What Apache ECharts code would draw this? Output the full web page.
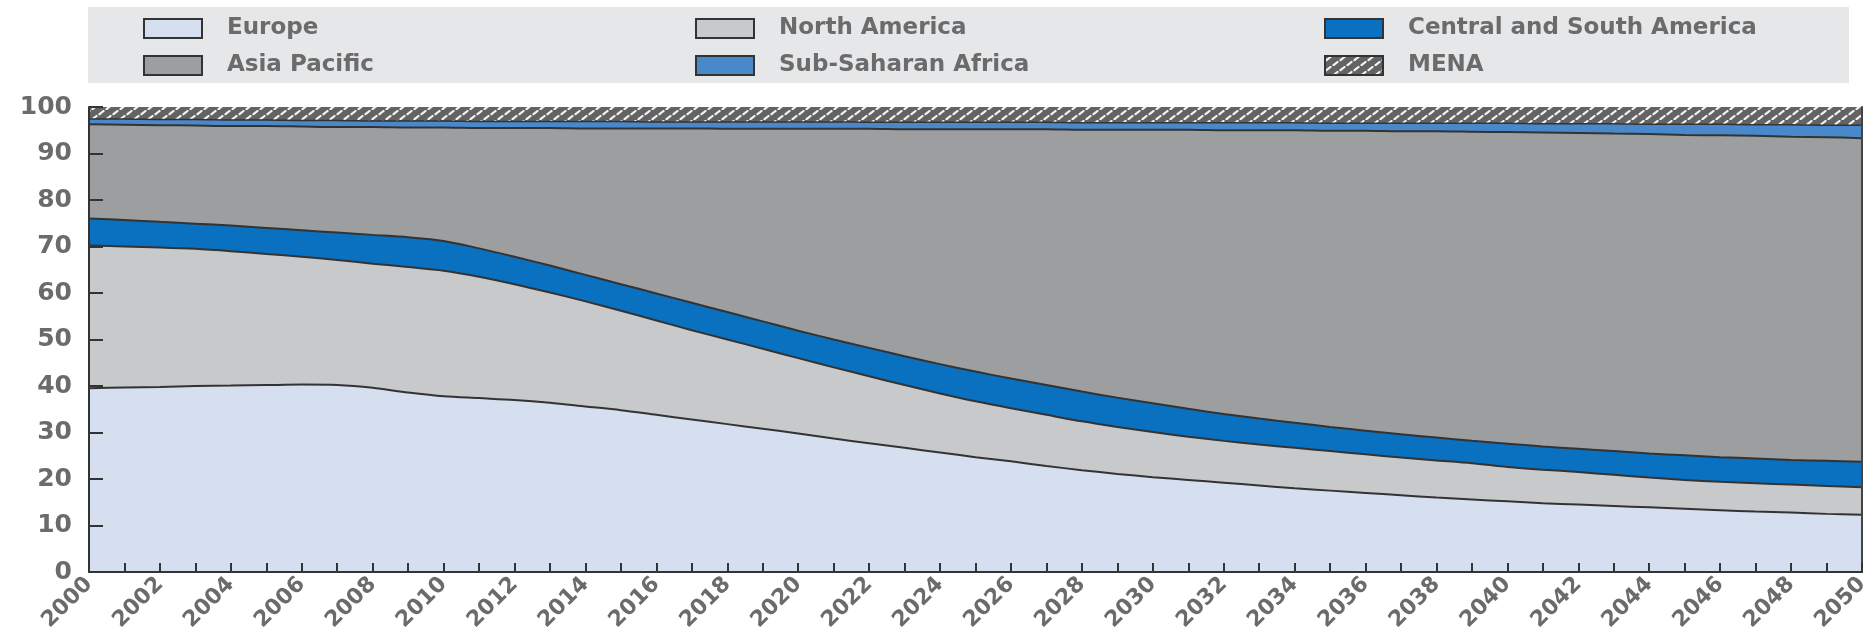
<!DOCTYPE html>
<html>
<head>
<meta charset="utf-8">
<script src="https://cdn.jsdelivr.net/npm/echarts@6/dist/echarts.min.js"></script>
<style>
  html, body { margin: 0; padding: 0; background: #fff; }
  #id_area { width: 1870px; height: 632px; }
</style>
</head>
<body>
<div id="id_area"></div>
<script>
var years = ['2000','2001','2002','2003','2004','2005','2006','2007','2008','2009',
  '2010','2011','2012','2013','2014','2015','2016','2017','2018','2019',
  '2020','2021','2022','2023','2024','2025','2026','2027','2028','2029',
  '2030','2031','2032','2033','2034','2035','2036','2037','2038','2039',
  '2040','2041','2042','2043','2044','2045','2046','2047','2048','2049','2050'];

// shares in %, bottom layer first
var europe = [39.5,39.7,39.8,40.0,40.1,40.2,40.3,40.2,39.6,38.6,
  37.8,37.4,37.0,36.4,35.6,34.8,33.8,32.8,31.8,30.8,
  29.8,28.7,27.7,26.7,25.7,24.7,23.8,22.8,21.9,21.1,
  20.4,19.8,19.2,18.6,18.0,17.5,17.0,16.5,16.0,15.6,
  15.2,14.8,14.5,14.2,13.9,13.6,13.3,13.0,12.8,12.5,12.3];
var northAmerica = [30.7,30.3,30.0,29.5,28.9,28.2,27.5,26.9,26.7,27.0,
  27.0,26.1,24.9,23.7,22.6,21.4,20.3,19.2,18.2,17.2,
  16.2,15.3,14.4,13.5,12.7,12.0,11.4,11.0,10.5,10.1,
  9.7,9.3,9.0,8.8,8.7,8.5,8.3,8.1,8.0,7.8,
  7.4,7.2,7.0,6.7,6.4,6.2,6.1,6.1,6.0,6.0,5.9];
var centralSouth = [5.8,5.7,5.5,5.4,5.5,5.6,5.7,5.9,6.2,6.4,
  6.4,6.1,5.9,5.8,5.7,5.7,5.8,5.9,5.9,5.9,
  5.9,6.0,6.1,6.2,6.3,6.4,6.4,6.4,6.4,6.3,
  6.2,6.0,5.8,5.6,5.4,5.2,5.1,5.0,4.9,4.8,
  5.0,5.0,5.0,5.1,5.2,5.3,5.3,5.3,5.3,5.4,5.5];
var asiaPacific = [20.3,20.5,20.8,21.1,21.4,21.9,22.3,22.7,23.2,23.6,
  24.4,25.9,27.7,29.6,31.5,33.5,35.5,37.5,39.4,41.4,
  43.4,45.3,47.1,48.8,50.5,52.1,53.6,55.0,56.3,57.6,
  58.8,60.0,61.0,62.0,62.9,63.7,64.5,65.2,65.9,66.5,
  67.0,67.5,67.9,68.3,68.7,68.9,69.2,69.4,69.5,69.6,69.6];
var subSaharan = [1.1,1.2,1.2,1.3,1.3,1.3,1.3,1.4,1.3,1.4,
  1.4,1.4,1.4,1.4,1.5,1.5,1.4,1.4,1.5,1.5,
  1.5,1.5,1.4,1.5,1.5,1.5,1.5,1.5,1.5,1.5,
  1.5,1.5,1.6,1.6,1.6,1.6,1.6,1.7,1.7,1.8,
  1.9,1.9,2.0,2.1,2.1,2.3,2.4,2.4,2.6,2.6,2.8];
var mena = [2.6,2.6,2.7,2.7,2.8,2.8,2.9,2.9,3.0,3.0,
  3.0,3.1,3.1,3.1,3.1,3.1,3.2,3.2,3.2,3.2,
  3.2,3.2,3.3,3.3,3.3,3.3,3.3,3.3,3.4,3.4,
  3.4,3.4,3.4,3.4,3.4,3.5,3.5,3.5,3.5,3.5,
  3.5,3.6,3.6,3.6,3.7,3.7,3.7,3.8,3.8,3.9,3.9];

var yTicks = [0,10,20,30,40,50,60,70,80,90,100];

// hatched fill for MENA
function hatch() {
    var c = document.createElement('canvas');
    c.width = 14; c.height = 10;
    var ctx = c.getContext('2d');
    ctx.fillStyle = '#636363';
    ctx.fillRect(0, 0, 14, 10);
    ctx.strokeStyle = '#f4f4f4';
    ctx.lineWidth = 2.2;
    ctx.lineCap = 'round';
    ctx.beginPath();
    ctx.moveTo(1.5, 4.2); ctx.lineTo(5.5, 1);
    ctx.moveTo(8.5, 9.2); ctx.lineTo(12.5, 6);
    ctx.stroke();
    return { image: c, repeat: 'repeat' };
}
var menaFill = hatch();

var fontName = 'DejaVu Sans';
var txtColor = '#6b6b6b';

var myChart = echarts.init(document.getElementById('id_area'));

function layer(name, values, color, lineW) {
    return {
        name: name,
        type: 'line',
        stack: 'share',
        data: values,
        showSymbol: false,
        symbol: 'none',
        smooth: 0.3,
        lineStyle: { color: '#333', width: lineW },
        areaStyle: { color: color, opacity: 1 },
        itemStyle: { color: color, borderColor: '#333', borderWidth: 2 },
        emphasis: { disabled: true }
    };
}

function legendCol(left, names) {
    return {
        orient: 'vertical',
        left: left,
        top: 17,
        padding: 0,
        itemWidth: 58,
        itemHeight: 19,
        itemGap: 14,
        icon: 'rect',
        selectedMode: false,
        itemStyle: { borderColor: '#333', borderWidth: 2 },
        textStyle: { fontFamily: fontName, fontWeight: 'bold', fontSize: 23, color: txtColor, padding: [0, 0, 0, 20] },
        data: names
    };
}

var option = {
    backgroundColor: '#fff',
    animation: false,
    graphic: [{
        type: 'rect',
        shape: { x: 88, y: 7, width: 1761, height: 76 },
        style: { fill: '#e6e7e9' },
        z: -10
    }],
    legend: [
        legendCol(143, ['Europe', 'Asia Pacific']),
        legendCol(695, ['North America', 'Sub-Saharan Africa']),
        legendCol(1324, ['Central and South America', { name: 'MENA', itemStyle: { color: menaFill } }])
    ],
    grid: { left: 89, right: 8, top: 107, bottom: 60, containLabel: false, outerBoundsMode: 'none' },
    xAxis: {
        type: 'category',
        data: years,
        boundaryGap: false,
        z: 10,
        axisLine: { lineStyle: { color: '#333', width: 2 } },
        axisTick: { show: true, inside: true, length: 9, interval: 0, lineStyle: { color: '#333', width: 2 } },
        axisLabel: {
            interval: 1,
            rotate: 45,
            margin: 9,
            fontFamily: fontName,
            fontWeight: 'bold',
            fontSize: 22,
            color: txtColor
        },
        splitLine: { show: false }
    },
    yAxis: [{
        type: 'value',
        min: 0,
        max: 100,
        interval: 10,
        z: 10,
        axisLine: { show: true, lineStyle: { color: '#333', width: 2 } },
        axisTick: { show: true, inside: true, length: 14, lineStyle: { color: '#333', width: 2 } },
        axisLabel: {
            margin: 17,
            fontFamily: fontName,
            fontWeight: 'bold',
            fontSize: 25,
            color: txtColor,
            formatter: function (v) { return yTicks.indexOf(v) >= 0 ? String(v) : ''; }
        },
        splitLine: { show: false }
    }, {
        type: 'value',
        position: 'right',
        min: 0,
        max: 100,
        z: 10,
        axisLine: { show: true, lineStyle: { color: '#444', width: 2 } },
        axisTick: { show: false },
        axisLabel: { show: false },
        splitLine: { show: false }
    }],
    series: [
        layer('Europe', europe, '#d5dff0', 2),
        layer('North America', northAmerica, '#c8c9cb', 2),
        layer('Central and South America', centralSouth, '#0a70c0', 2),
        layer('Asia Pacific', asiaPacific, '#9d9ea0', 2),
        layer('Sub-Saharan Africa', subSaharan, '#4a88cc', 1.5),
        layer('MENA', mena, menaFill, 0)
    ]
};

myChart.setOption(option);
</script>
</body>
</html>
